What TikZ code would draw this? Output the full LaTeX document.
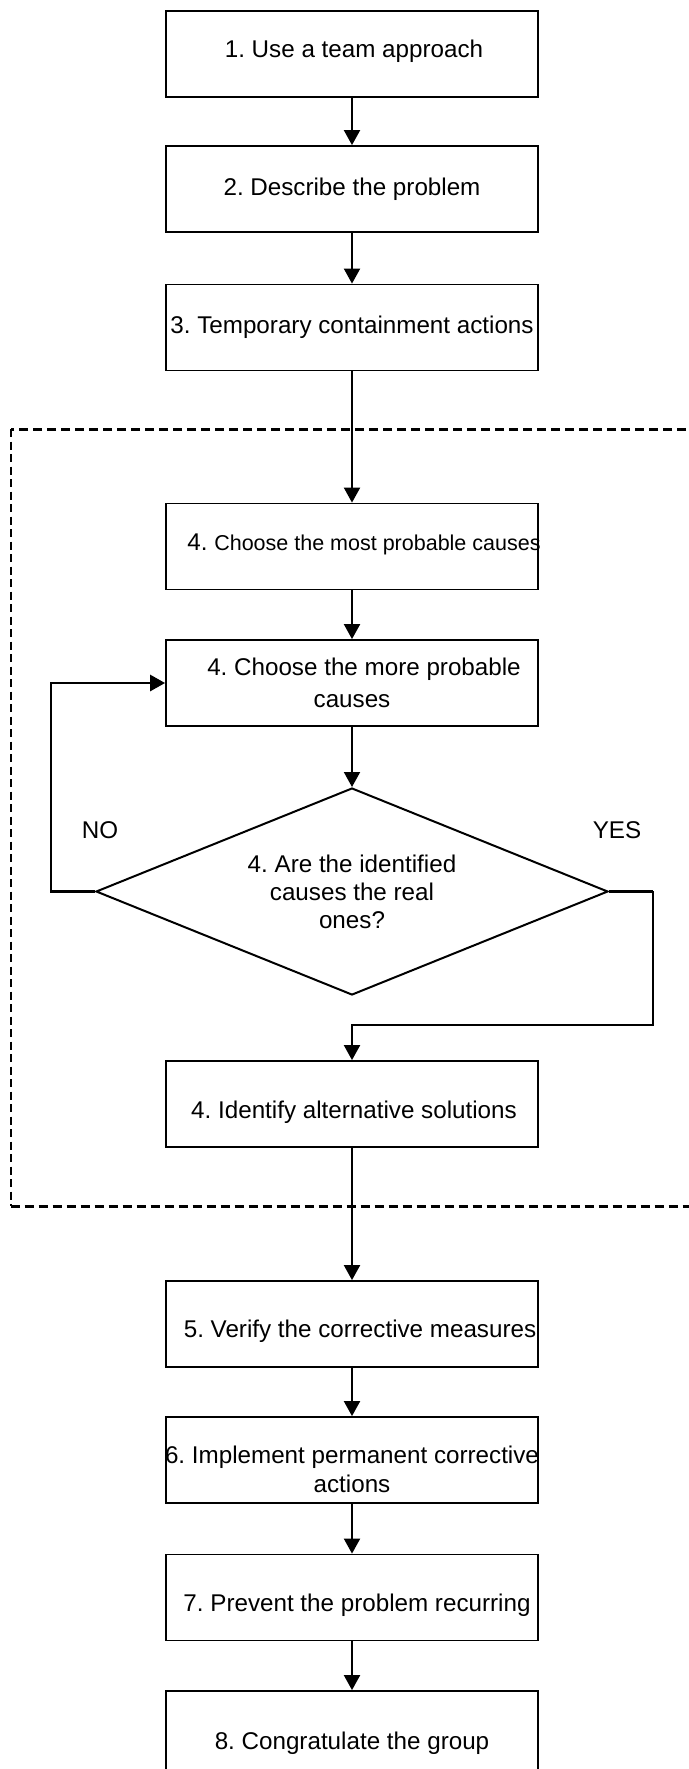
\documentclass[tikz,border=0pt]{standalone}
\usepackage{fontspec}
\setmainfont{Liberation Sans}
\usetikzlibrary{shapes.geometric,arrows.meta}
\frenchspacing

% move a label inside its box: dx, dy, text
\newcommand{\movetext}[3]{\raisebox{#2}[\height][\depth]{\makebox[0pt]{\hspace*{#1}\hspace*{#1}#3}}}

\begin{document}
\begin{tikzpicture}[x=1pt,y=-1pt,line width=2pt,
    >={Triangle[length=15pt,width=16pt]},
    font=\fontsize{24.2}{29}\selectfont]

        \useasboundingbox (0,0) rectangle (688,1769);

        % frame round step 4
        \draw[line width=3pt,dash pattern=on 9pt off 5pt] (700,429) -- (10.5,429);
        \draw[line width=3pt,dash pattern=on 9pt off 5pt] (10.5,1206) -- (700,1206);
        \draw[line width=2pt,dash pattern=on 8pt off 4.5pt] (10.5,429) -- (10.5,1206);

        \begin{scope}[every node/.style={draw,rectangle,line width=1.8pt,minimum width=372pt,
            minimum height=86pt,inner sep=0pt,align=center}]
          \node (1)  at (352,54)    {\movetext{2pt}{3pt}{1. Use a team approach}};
          \node (2)  at (352,189)   {2. Describe the problem};
          \node (3)  at (352,327.5) {3. Temporary containment actions};
          \node (4a) at (352,546.5) {\movetext{12pt}{2pt}{4. {\fontsize{21.5}{26}\selectfont Choose the most probable causes}}};
          \node (4b) at (352,683)   {\hspace*{24pt}4. Choose the more probable\\[3pt]causes};
          \node (4c) at (352,1104)  {\movetext{2pt}{-8pt}{4. Identify alternative solutions}};
          \node (5)  at (352,1324)  {\movetext{8pt}{-7pt}{5. Verify the corrective measures}};
          \node (6)  at (352,1460)  {\movetext{0pt}{-12pt}{\begin{tabular}{@{}c@{}}6. Implement permanent corrective\\actions\end{tabular}}};
          \node (7)  at (352,1597.5){\movetext{5pt}{-8pt}{7. Prevent the problem recurring}};
          \node (8)  at (352,1734)  {\movetext{0pt}{-9pt}{8. Congratulate the group}};
        \end{scope}

        \node (4q) [draw,diamond,aspect=2.47,minimum width=512pt,minimum height=207pt,
          inner sep=0pt,align=center,font=\fontsize{24.2}{28}\selectfont]
          at (352,891.5) {4. Are the identified\\causes the real\\ones?};

        \node (no)  at (100,830) {NO};
        \node (yes) at (617,830) {YES};

        \coordinate (r) at (653,1025);

        \begin{scope}[every edge/.style={draw,->}]
          \path (1)  edge (2);
          \path (2)  edge (3);
          \path (3)  edge (4a);
          \path (4a) edge (4b);
          \path (4b) edge (4q);
          \path (4c) edge (5);
          \path (5)  edge (6);
          \path (6)  edge (7);
          \path (7)  edge (8);
        \end{scope}

        \draw[->,line width=2.8pt] (4q.west) -- ++(-44,0) |- (4b.west);
        \draw[line width=3pt] (4q.east) -- ++(44,0);
        \draw[->] (4q.east) -| (r) -| (4c.north);

      \end{tikzpicture}
\end{document}
